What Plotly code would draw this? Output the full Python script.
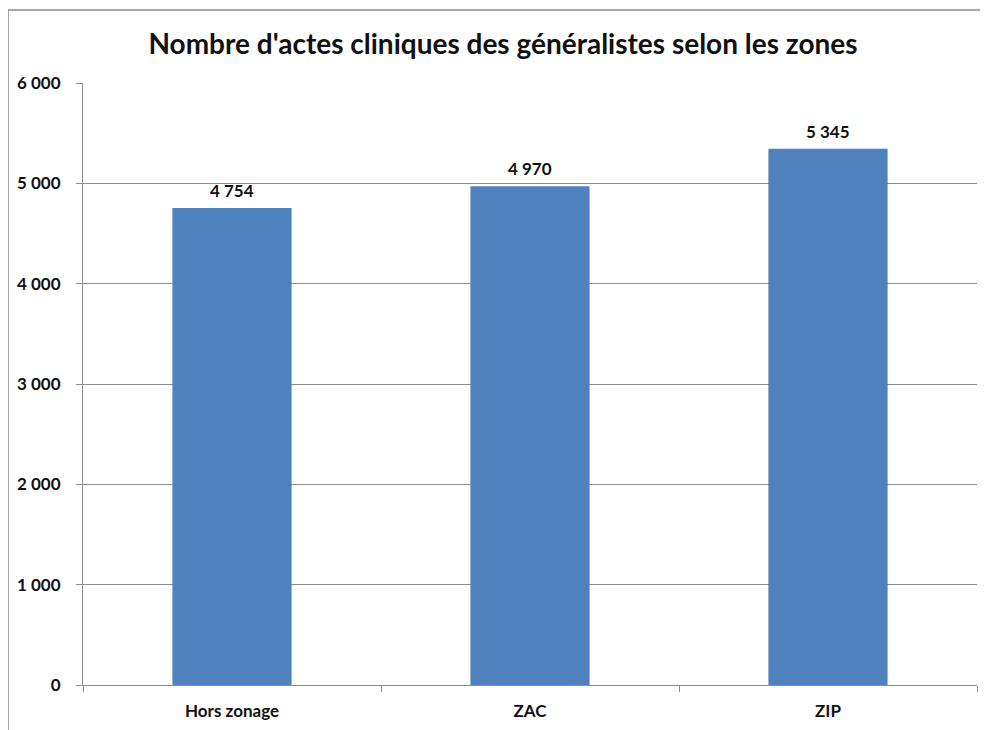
import plotly.graph_objects as go

categories = ["Hors zonage", "ZAC", "ZIP"]
values = [4754, 4970, 5345]
y_ticks = [0, 1000, 2000, 3000, 4000, 5000, 6000]

FONT = "Lato"
OFF = 8  # default body margin of the html page
W, H = 980, 722
# plot area in page pixel coordinates
PL, PR, PT, PB = 83, 977, 83, 685
L, R, T, B = PL - OFF, W - (PR - OFF), PT - OFF, H - (PB - OFF)
pw, ph = W - L - R, H - T - B

def px(x):
    return (x - OFF - L) / pw

def py(y):
    return (H - B - (y - OFF)) / ph

fig = go.Figure(go.Bar(
    x=categories, y=values,
    marker=dict(color="#4F81BD", line=dict(width=0)),
    hoverinfo="x+y",
))

for c, v in zip(categories, values):
    fig.add_annotation(x=c, y=v, text="<b>%s</b>" % f"{v:,d}".replace(",", " "),
                       showarrow=False, yanchor="bottom", yshift=5,
                       font=dict(family=FONT, size=17, color="#111111"))

fig.update_layout(
    width=W, height=H,
    margin=dict(l=L, r=R, t=T, b=B, autoexpand=False),
    paper_bgcolor="white", plot_bgcolor="white",
    separators=", ",
    bargap=0.6,
    showlegend=False,
    font=dict(family=FONT, color="#111111"),
    title=dict(text="<b>Nombre d'actes cliniques des généralistes selon les zones</b>",
               xref="container", yref="container",
               x=(503 - OFF) / W, xanchor="center", y=1 - (44 - OFF) / H, yanchor="middle",
               font=dict(family=FONT, size=28, color="#111111")),
    shapes=[dict(type="rect", xref="paper", yref="paper",
                 x0=px(8), x1=px(1000), y0=py(745), y1=py(10),
                 line=dict(color="#8a8a8a", width=1.5), layer="below")],
)
fig.update_yaxes(
    range=[0, 6000], tickvals=y_ticks, tickformat=",d",
    showgrid=True, gridcolor="#8c8c8c", gridwidth=1,
    showline=True, linecolor="#8c8c8c", linewidth=1,
    ticks="outside", ticklen=6, tickcolor="#8c8c8c",
    ticklabelstandoff=12, automargin=False,
    tickfont=dict(family=FONT, size=17, color="#111111", weight="bold"),
    zeroline=False,
)
fig.update_xaxes(
    showline=True, linecolor="#8c8c8c", linewidth=1,
    ticks="outside", tickson="boundaries", ticklen=6, tickcolor="#8c8c8c",
    ticklabelstandoff=11, automargin=False,
    tickfont=dict(family=FONT, size=17, color="#111111", weight="bold"),
)
fig.write_html("out.html")
